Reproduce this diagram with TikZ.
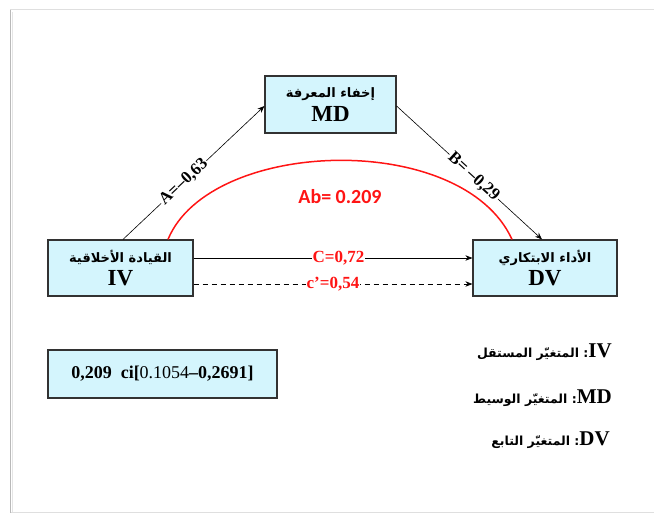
\documentclass[tikz,border=0pt]{standalone}
\usepackage{fontspec}
\setmainfont{Liberation Serif}
\newfontfamily\arabicfont[Script=Arabic]{DejaVu Sans}
\newfontfamily\calib{Carlito}
\TeXXeTstate=1
\usetikzlibrary{arrows.meta,shadows}
\definecolor{boxfill}{RGB}{212,245,253}
\definecolor{boxline}{RGB}{50,50,50}
\definecolor{redc}{RGB}{255,20,20}
\tikzset{
  varbox/.style={draw=boxline, line width=1.2pt, fill=boxfill, align=center,
    inner sep=0pt, drop shadow={shadow xshift=1.2pt, shadow yshift=-1.2pt, opacity=0.35}},
  arr/.style={-{Stealth[length=7pt,width=5.5pt]}, line width=0.6pt, black},
  lab/.style={fill=white, inner sep=1pt, font=\fontsize{17}{19}\selectfont\bfseries}
}
\begin{document}
\begin{tikzpicture}[x=1pt,y=-1pt]
\useasboundingbox (0,0) rectangle (654,514);
% frame
\draw[gray!25, line width=1pt] (10,9.5) -- (654,9.5);
\draw[gray!25, line width=1pt] (10,512.5) -- (654,512.5);
\draw[gray!55, line width=1.6pt] (10.5,9.5) -- (10.5,513);
\draw[gray!20, line width=1pt] (12.5,12) -- (12.5,512);

\node[varbox, minimum width=131pt, minimum height=57pt] (md) at (330.5,104.5)
  {{\arabicfont\bfseries\fontsize{13}{15}\selectfont\beginR إخفاء المعرفة\endR}\\[4pt]{\fontsize{23}{25}\selectfont\bfseries MD}};
\node[varbox, minimum width=145pt, minimum height=56pt] (iv) at (120.5,268)
  {{\arabicfont\bfseries\fontsize{13}{15}\selectfont\beginR القيادة الأخلاقية\endR}\\[4pt]{\fontsize{23}{25}\selectfont\bfseries IV}};
\node[varbox, minimum width=144pt, minimum height=56pt] (dv) at (545,268)
  {{\arabicfont\bfseries\fontsize{13}{15}\selectfont\beginR الأداء الابتكاري\endR}\\[4pt]{\fontsize{23}{25}\selectfont\bfseries DV}};
\node[varbox, minimum width=229pt, minimum height=48pt] (ci) at (162.5,374)
  {\fontsize{18}{20}\selectfont\bfseries 0,209\ \ ci[{\mdseries 0.1054}–0,2691]};

% paths
\draw[arr] ([xshift=2.5pt]iv.north) -- node[lab, sloped, pos=0.43] {A=–0,63} ([yshift=-1.5pt]md.west);
\draw[arr] ([yshift=-1.5pt]md.east) -- node[lab, sloped, pos=0.53] {B= –0,29} ([xshift=-3pt]dv.north);
\draw[redc, line width=1.5pt] ([xshift=47.5pt]iv.north) .. controls (210,138) and (462,130) .. ([xshift=-33pt]dv.north);
\node[text=redc, font=\calib\bfseries\fontsize{20}{22}\selectfont] (ab) at (340,197) {Ab= 0.209};
\draw[arr] ([yshift=10pt]iv.east) -- node[lab, text=redc, pos=0.52] {C=0,72} ([yshift=10pt]dv.west);
\draw[arr, dash pattern=on 5pt off 4pt, line width=0.8pt] ([yshift=-16pt]iv.east) -- node[lab, text=redc, pos=0.5] {c’=0,54} ([yshift=-16pt]dv.west);

% legend
\node[anchor=east, inner sep=0pt] (l1) at (612,352)
  {{\arabicfont\bfseries\fontsize{12.5}{14}\selectfont\beginR\beginL{\fontsize{21}{23}\selectfont\bfseries\rmfamily IV}\endL: المتغيّر المستقل\endR}};
\node[anchor=east, inner sep=0pt] (l2) at (612,398)
  {{\arabicfont\bfseries\fontsize{12.5}{14}\selectfont\beginR\beginL{\fontsize{21}{23}\selectfont\bfseries\rmfamily MD}\endL: المتغيّر الوسيط\endR}};
\node[anchor=east, inner sep=0pt] (l3) at (610,440)
  {{\arabicfont\bfseries\fontsize{12.5}{14}\selectfont\beginR\beginL{\fontsize{21}{23}\selectfont\bfseries\rmfamily DV}\endL: المتغيّر التابع\endR}};
\end{tikzpicture}
\end{document}
